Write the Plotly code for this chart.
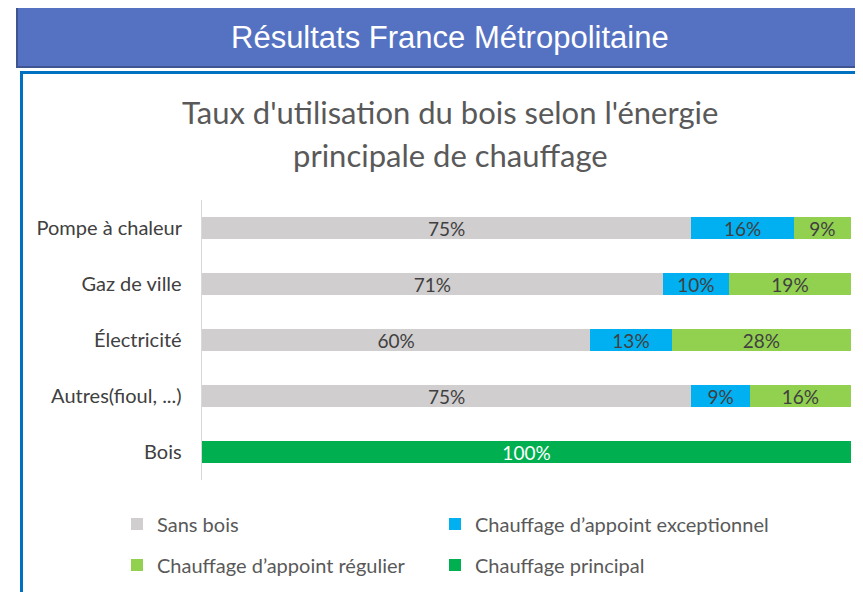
import plotly.graph_objects as go

categories = ["Pompe à chaleur", "Gaz de ville", "Électricité", "Autres(fioul, ...)", "Bois"]
sans_bois = [75.4, 71.0, 59.8, 75.4, None]
appoint_exceptionnel = [15.8, 10.2, 12.6, 9.0, None]
appoint_regulier = [8.8, 18.8, 27.6, 15.6, None]
chauffage_principal = [None, None, None, None, 100.0]

series_names = ["Sans bois", "Chauffage d’appoint exceptionnel",
                "Chauffage d’appoint régulier", "Chauffage principal"]
series_values = [sans_bois, appoint_exceptionnel, appoint_regulier, chauffage_principal]
series_colors = ["#D0CECE", "#00B0F0", "#92D050", "#00B050"]
label_colors = ["#404040", "#404040", "#404040", "#FFFFFF"]
legend_ids = ["legend", "legend2", "legend3", "legend4"]

OFF = 8  # page body margin
W, H = 863, 592
# target screen positions of plot area: x 202..851, y 200..480
L = 202 - OFF
R = W - (851 - OFF)
T = 200 - OFF
B = H - (480 - OFF)
PW, PH = W - L - R, H - T - B

def px(x):
    return (x - OFF - L) / PW

def py(y):
    return (H - B - (y - OFF)) / PH

FONT = "Lato, 'Open Sans', sans-serif"

fig = go.Figure()
for name, vals, col, lc, lg in zip(series_names, series_values, series_colors, label_colors, legend_ids):
    fig.add_trace(go.Bar(
        y=categories, x=vals, name=name, orientation="h",
        marker=dict(color=col, line=dict(width=0)),
        texttemplate="%{x:.0f}%", textposition="inside", insidetextanchor="middle",
        textangle=0, constraintext="none",
        textfont=dict(family=FONT, size=19, color=lc),
        legend=lg, showlegend=True, hoverinfo="skip",
    ))

# legend entry positions (screen px): x of legend box start, y of row centre
legend_pos = [(117, 524), (435, 524), (117, 565), (435, 565)]
legend_layout = {}
for lg, (lx, ly) in zip(legend_ids, legend_pos):
    legend_layout[lg] = dict(orientation="h", x=px(lx), xanchor="left", y=py(ly), yanchor="middle",
                             bgcolor="rgba(0,0,0,0)", visible=True,
                             font=dict(family=FONT, size=20, color="#595959"))

fig.update_layout(
    width=W, height=H,
    margin=dict(l=L, r=R, t=T, b=B),
    barmode="stack", bargap=0.6, showlegend=True,
    plot_bgcolor="white", paper_bgcolor="white",
    font=dict(family=FONT, size=19, color="#595959"),
    xaxis=dict(range=[0, 100], visible=False, showgrid=False, zeroline=False),
    yaxis=dict(autorange="reversed", showline=True, linecolor="#D9D9D9", linewidth=1,
               ticks="", showgrid=False, ticksuffix="   ",
               tickfont=dict(family=FONT, size=20, color="#404040")),
    shapes=[
        dict(type="rect", xref="paper", yref="paper", layer="below",
             x0=px(17), x1=px(910), y0=py(67), y1=py(7),
             fillcolor="#5572C2", line=dict(color="#3F5592", width=2)),
        dict(type="rect", xref="paper", yref="paper", layer="below",
             x0=px(21.5), x1=px(910), y0=py(640), y1=py(72.5),
             fillcolor="rgba(0,0,0,0)", line=dict(color="#0070C0", width=3)),
    ],
    annotations=[
        dict(text="Résultats France Métropolitaine", xref="paper", yref="paper",
             x=px(450), y=py(37), xanchor="center", yanchor="middle", showarrow=False,
             font=dict(family="'Liberation Sans', Arial, sans-serif", size=31, color="white")),
        dict(text="Taux d'utilisation du bois selon l'énergie", xref="paper", yref="paper",
             x=px(450), y=py(112), xanchor="center", yanchor="middle", showarrow=False,
             font=dict(family=FONT, size=31, color="#595959")),
        dict(text="principale de chauffage", xref="paper", yref="paper",
             x=px(450), y=py(155), xanchor="center", yanchor="middle", showarrow=False,
             font=dict(family=FONT, size=31, color="#595959")),
    ],
    **legend_layout,
)

fig.write_html("out.html")
